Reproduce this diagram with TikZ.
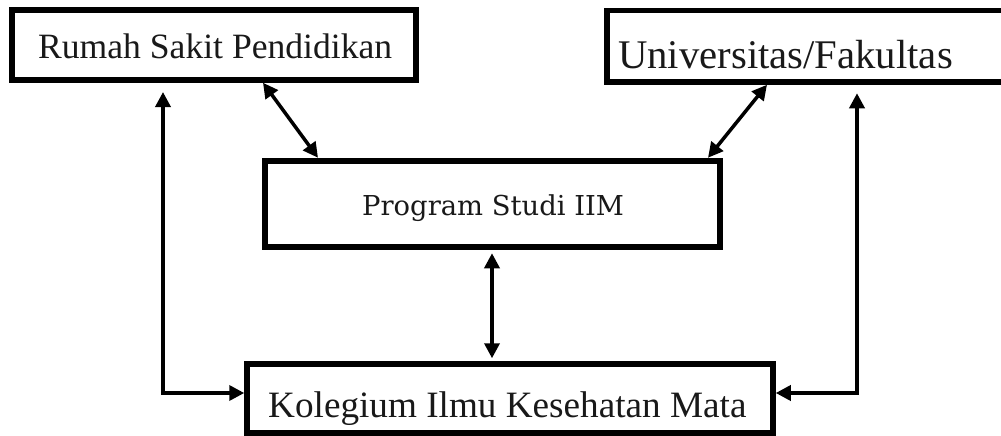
\documentclass[tikz,border=0pt]{standalone}
\usepackage{fontspec}
\setmainfont{Liberation Serif}
\newfontfamily\psfont{DejaVu Serif}
\usetikzlibrary{arrows.meta}
\begin{document}
\begin{tikzpicture}[x=1pt,y=-1pt,
  box/.style={draw=black, line width=5.5pt, rectangle, inner sep=0pt, fill=white},
  lbl/.style={inner sep=0pt, anchor=base west, text=black!90},
  link/.style={line width=3.5pt, draw=black, {Triangle[length=15pt,width=15pt]}-{Triangle[length=15pt,width=15pt]}}
  ]
\useasboundingbox (0,0) rectangle (1001,436);
\fill[white] (0,0) rectangle (1001,436);
\clip (0,0) rectangle (1001,436);
% boxes
\node[box, minimum width=404pt, minimum height=70pt] (rs) at (214,45) {};
\node[box, minimum width=408pt, minimum height=71.5pt] (uf) at (811,46.25) {};
\node[box, line width=6.5pt, minimum width=455pt, minimum height=86pt] (ps) at (492.5,204) {};
\node[box, minimum width=526pt, minimum height=69pt] (kg) at (510,398.5) {};
% labels
\node[lbl, font=\fontsize{35.6pt}{40pt}\selectfont] (rst) at (38,59) {Rumah Sakit Pendidikan};
\node[lbl, font=\fontsize{40.7pt}{46pt}\selectfont] (uft) at (618,69) {Universitas/Fakultas};
\node[lbl, font=\psfont\fontsize{27.4pt}{33pt}\selectfont] (pst) at (362,215) {Program Studi IIM};
\node[lbl, font=\fontsize{37.2pt}{42pt}\selectfont] (kgt) at (268,417) {Kolegium Ilmu Kesehatan Mata};
% connectors
\draw[link] ([xshift=49pt]rs.south) -- ([xshift=-174.5pt]ps.north);
\draw[link] ([xshift=-44pt]uf.south) -- ([xshift=215.5pt]ps.north);
\draw[link, shorten <=3pt, shorten >=3pt] ([xshift=-0.5pt]ps.south) -- ([xshift=-0.5pt]ps.south |- kg.north);
\draw[link] ([yshift=5.5pt]kg.west) -| ([xshift=-51pt,yshift=-9.25pt]rs.south);
\draw[link] ([yshift=5.5pt]kg.east) -| ([xshift=46pt,yshift=-8.5pt]uf.south);
\end{tikzpicture}
\end{document}
